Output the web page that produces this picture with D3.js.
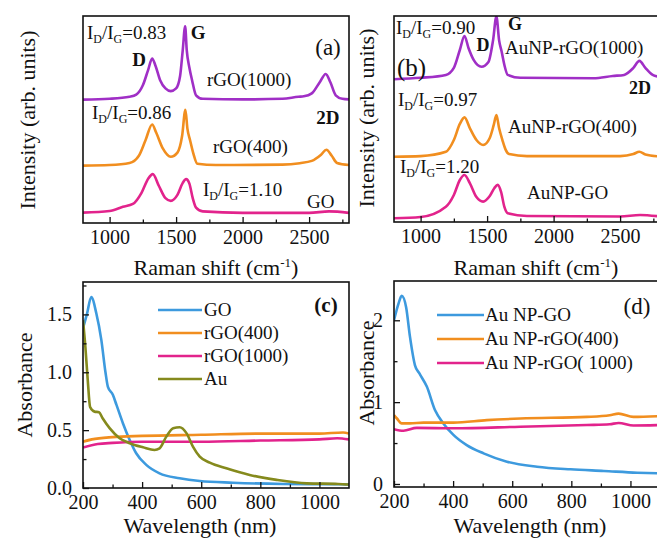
<!DOCTYPE html>
<html>
<head>
<meta charset="utf-8">
<script src="https://cdn.jsdelivr.net/npm/d3@7"></script>
<style>
  body { margin: 0; background: #fff; }
  svg { display: block; }
  text { font-family: "Liberation Serif", "Times New Roman", serif; fill: #111; }
</style>
</head>
<body>
<svg id="fig" width="657" height="545"></svg>
<script>
// ---- data ----
// Raman spectra, panel (a): [wavenumber, offset intensity (arb.)]
const aRGO1000 = [[800,0.596],[1000,0.60],[1150,0.61],[1200,0.62],[1250,0.665],[1290,0.74],[1320,0.795],[1345,0.76],[1380,0.69],[1420,0.65],[1460,0.637],[1500,0.65],[1530,0.71],[1550,0.835],[1568,0.95],[1580,0.835],[1600,0.75],[1620,0.69],[1650,0.617],[1700,0.60],[2000,0.597],[2300,0.60],[2420,0.61],[2460,0.612],[2520,0.626],[2580,0.68],[2625,0.72],[2660,0.68],[2700,0.617],[2750,0.60],[2800,0.597]];
const aRGO400 = [[800,0.277],[1000,0.28],[1150,0.29],[1220,0.325],[1270,0.40],[1320,0.476],[1350,0.437],[1400,0.36],[1460,0.32],[1510,0.34],[1545,0.42],[1570,0.547],[1585,0.456],[1605,0.40],[1630,0.335],[1660,0.286],[1800,0.28],[2300,0.282],[2430,0.289],[2520,0.30],[2590,0.33],[2630,0.354],[2670,0.325],[2710,0.29],[2800,0.28]];
const aGO = [[800,0.05],[1000,0.058],[1100,0.078],[1175,0.092],[1240,0.146],[1290,0.214],[1325,0.236],[1370,0.18],[1420,0.12],[1460,0.107],[1510,0.136],[1550,0.194],[1575,0.212],[1600,0.19],[1625,0.12],[1650,0.074],[1700,0.056],[2000,0.049],[2500,0.049],[2650,0.056],[2800,0.049]];

// Raman spectra, panel (b)
const bRGO1000 = [[800,0.693],[1000,0.70],[1190,0.714],[1250,0.748],[1295,0.835],[1330,0.903],[1360,0.845],[1400,0.786],[1458,0.754],[1510,0.777],[1545,0.883],[1570,0.998],[1590,0.883],[1610,0.825],[1630,0.762],[1655,0.714],[1750,0.70],[2300,0.698],[2445,0.709],[2530,0.714],[2600,0.748],[2645,0.782],[2690,0.748],[2745,0.714],[2800,0.704]];
const bRGO400 = [[800,0.317],[1000,0.32],[1190,0.341],[1250,0.398],[1295,0.476],[1330,0.508],[1370,0.456],[1420,0.398],[1470,0.374],[1520,0.408],[1550,0.471],[1570,0.519],[1590,0.456],[1615,0.398],[1640,0.35],[1665,0.33],[1800,0.32],[2500,0.32],[2600,0.33],[2645,0.341],[2690,0.328],[2800,0.318]];
const bGO = [[800,0.018],[1000,0.024],[1190,0.074],[1250,0.131],[1295,0.204],[1330,0.228],[1370,0.189],[1420,0.121],[1470,0.099],[1520,0.126],[1555,0.165],[1580,0.18],[1605,0.146],[1630,0.073],[1655,0.042],[1800,0.029],[2500,0.027],[2650,0.034],[2800,0.027]];

// UV-vis, panel (c): [wavelength nm, absorbance]
const cGO = [[200,1.38],[213,1.50],[228,1.65],[245,1.51],[262,1.28],[276,1.0],[284,0.877],[301,0.805],[313,0.72],[335,0.56],[358,0.415],[380,0.30],[414,0.20],[459,0.127],[527,0.084],[595,0.06],[707,0.046],[877,0.035],[1070,0.032],[1100,0.03]];
const cRGO400 = [[200,0.40],[230,0.42],[300,0.44],[400,0.45],[600,0.46],[800,0.47],[1000,0.47],[1080,0.48],[1100,0.47]];
const cRGO1000 = [[200,0.35],[250,0.38],[300,0.39],[400,0.40],[600,0.40],[800,0.41],[1000,0.42],[1060,0.43],[1100,0.42]];
const cAu = [[200,1.45],[208,1.22],[216,0.935],[224,0.70],[239,0.66],[254,0.655],[267,0.60],[290,0.517],[324,0.43],[358,0.387],[403,0.352],[442,0.329],[459,0.343],[482,0.444],[505,0.517],[527,0.525],[550,0.474],[572,0.358],[595,0.271],[629,0.219],[685,0.17],[764,0.113],[855,0.07],[957,0.04],[1063,0.035],[1100,0.03]];

// UV-vis, panel (d)
const dGO = [[200,2.0],[215,2.2],[226,2.30],[241,2.16],[254,1.80],[271,1.45],[286,1.35],[311,1.19],[339,0.90],[367,0.74],[401,0.60],[446,0.475],[503,0.374],[582,0.272],[684,0.211],[797,0.179],[910,0.159],[1023,0.138],[1100,0.13]];
const dRGO400 = [[200,0.84],[210,0.80],[226,0.74],[254,0.74],[300,0.75],[401,0.75],[514,0.78],[627,0.80],[853,0.82],[930,0.84],[960,0.86],[1010,0.82],[1100,0.83]];
const dRGO1000 = [[200,0.67],[232,0.65],[277,0.685],[401,0.68],[627,0.70],[853,0.72],[930,0.73],[960,0.745],[1010,0.715],[1100,0.72]];

// ticks
const ramanMajor = [1000, 1500, 2000, 2500];
const ramanMinor = [1250, 1750, 2250, 2750];
const uvMajor = [200, 400, 600, 800, 1000];
const uvMinor = [300, 500, 700, 900];
const cYMajor = [0, 0.5, 1.0, 1.5];
const cYMinor = [0.25, 0.75, 1.25, 1.75];
const dYMajor = [0, 1, 2];
const dYMinor = [0.5, 1.5];

// annotations: [text, x, y] in data units
const ratioA = [["0.83", 830, 0.889], ["0.86", 868, 0.502], ["1.10", 1702, 0.13]];
const sampleA = [["rGO(1000)", 1732, 0.662], ["rGO(400)", 1777, 0.338], ["GO", 2484, 0.072]];
const peakA = [["D", 1221, 0.758], ["G", 1665, 0.889], ["2D", 2642, 0.478]];
const ratioB = [["0.90", 815, 0.913], ["0.97", 830, 0.563], ["1.20", 845, 0.238]];
const sampleB = [["AuNP-rGO(1000)", 1635, 0.814], ["AuNP-rGO(400)", 1657, 0.432], ["AuNP-GO", 1800, 0.112]];
const peakB = [["D", 1469, 0.83], ["G", 1710, 0.93], ["2D", 2650, 0.621]];

const legendC = ["GO", "rGO(400)", "rGO(1000)", "Au"];
const legendD = ["Au NP-GO", "Au NP-rGO(400)", "Au NP-rGO( 1000)"];

const purple = "#a02fc6", orange = "#f18e1f", magenta = "#e2238c", blue = "#3d9ade", olive = "#858a1d";

// ---- drawing ----
const svg = d3.select("#fig");

function panel(p) {
  const g = svg.append("g");
  const x = d3.scaleLinear().domain(p.xd).range([p.l, p.r]);
  const y = d3.scaleLinear().domain(p.yd).range([p.b, p.t]);

  const id = "clip" + p.name;
  svg.append("clipPath").attr("id", id)
    .append("rect").attr("x", p.l).attr("y", p.t).attr("width", p.r - p.l).attr("height", p.b - p.t);

  const line = d3.line().x(d => x(d[0])).y(d => y(d[1])).curve(d3.curveMonotoneX);
  p.series.forEach(s => {
    g.append("path").datum(s.data).attr("d", line)
      .attr("fill", "none").attr("stroke", s.color).attr("stroke-width", 2.6)
      .attr("stroke-linejoin", "round").attr("clip-path", `url(#${id})`);
  });

  // x axis, ticks pointing inward
  g.append("g").attr("transform", `translate(0,${p.b})`)
    .call(d3.axisBottom(x).tickValues(p.xMajor).tickSizeInner(-6).tickSizeOuter(0).tickPadding(7).tickFormat(d3.format("d")));
  g.append("g").attr("transform", `translate(0,${p.b})`)
    .call(d3.axisBottom(x).tickValues(p.xMinor).tickSizeInner(-3.5).tickSizeOuter(0).tickFormat(""));
  if (p.yMajor) {
    g.append("g").attr("transform", `translate(${p.l},0)`)
      .call(d3.axisLeft(y).tickValues(p.yMajor).tickSizeInner(-6).tickSizeOuter(0).tickPadding(11).tickFormat(p.yFmt));
    g.append("g").attr("transform", `translate(${p.l},0)`)
      .call(d3.axisLeft(y).tickValues(p.yMinor).tickSizeInner(-3.5).tickSizeOuter(0).tickFormat(""));
  }
  g.selectAll(".domain").remove();
  g.selectAll(".tick line").attr("stroke", "#111").attr("stroke-width", 1.3);
  g.selectAll(".tick text").attr("font-size", 20).attr("font-family", "Liberation Serif").attr("fill", "#111");

  g.append("rect").attr("x", p.l).attr("y", p.t).attr("width", p.r - p.l).attr("height", p.b - p.t)
    .attr("fill", "none").attr("stroke", "#111").attr("stroke-width", 1.6);

  return { g, x, y };
}

function ratioText(g, x, y, list) {
  list.forEach(([v, a, b]) => {
    const t = g.append("text").attr("x", x(a)).attr("y", y(b)).attr("font-size", 19);
    t.append("tspan").text("I");
    t.append("tspan").attr("dy", 4).attr("font-size", 12).text("D");
    t.append("tspan").attr("dy", -4).text("/I");
    t.append("tspan").attr("dy", 4).attr("font-size", 12).text("G");
    t.append("tspan").attr("dy", -4).text("=" + v);
  });
}

function plainText(g, x, y, list, opts) {
  list.forEach(([v, a, b]) => {
    g.append("text").attr("x", x(a)).attr("y", y(b))
      .attr("font-size", opts.size).attr("font-weight", opts.bold ? "bold" : "normal")
      .attr("text-anchor", opts.anchor || "start").text(v);
  });
}

function ramanTitles(g, cx, yb, ylabelX, ylabelY) {
  const t = g.append("text").attr("x", cx).attr("y", yb).attr("text-anchor", "middle").attr("font-size", 22);
  t.append("tspan").text("Raman shift (cm");
  t.append("tspan").attr("dy", -8).attr("font-size", 13).text("-1");
  t.append("tspan").attr("dy", 8).text(")");
  g.append("text").attr("transform", `translate(${ylabelX},${ylabelY}) rotate(-90)`)
    .attr("text-anchor", "middle").attr("font-size", 22).text("Intensity (arb. units)");
}

// (a)
const A = panel({ name: "a", l: 83, r: 349, t: 16, b: 223, xd: [800, 2800], yd: [0, 1],
  xMajor: ramanMajor, xMinor: ramanMinor,
  series: [{ data: aRGO1000, color: purple }, { data: aRGO400, color: orange }, { data: aGO, color: magenta }] });
ratioText(A.g, A.x, A.y, ratioA);
plainText(A.g, A.x, A.y, sampleA, { size: 19 });
plainText(A.g, A.x, A.y, peakA, { size: 19, bold: true, anchor: "middle" });
A.g.append("text").attr("x", 328).attr("y", 55).attr("text-anchor", "middle").attr("font-size", 23).text("(a)");
ramanTitles(A.g, 216, 275, 35, 120);

// (b)
const B = panel({ name: "b", l: 394, r: 660, t: 16, b: 222, xd: [800, 2800], yd: [0, 1],
  xMajor: ramanMajor, xMinor: ramanMinor,
  series: [{ data: bRGO1000, color: purple }, { data: bRGO400, color: orange }, { data: bGO, color: magenta }] });
ratioText(B.g, B.x, B.y, ratioB);
plainText(B.g, B.x, B.y, sampleB, { size: 19 });
plainText(B.g, B.x, B.y, peakB, { size: 18, bold: true, anchor: "middle" });
B.g.append("text").attr("x", 397).attr("y", 76).attr("font-size", 25).text("(b)");
ramanTitles(B.g, 536, 275, 374, 118);

// (c)
const C = panel({ name: "c", l: 83, r: 349, t: 282, b: 488, xd: [200, 1100], yd: [0, 1.78],
  xMajor: uvMajor, xMinor: uvMinor, yMajor: cYMajor, yMinor: cYMinor, yFmt: d3.format(".1f"),
  series: [{ data: cGO, color: blue }, { data: cRGO400, color: orange }, { data: cRGO1000, color: magenta }, { data: cAu, color: olive }] });
const colC = [blue, orange, magenta, olive];
legendC.forEach((name, i) => {
  const yy = 310 + i * 23;
  C.g.append("line").attr("x1", 158).attr("x2", 202).attr("y1", yy).attr("y2", yy)
    .attr("stroke", colC[i]).attr("stroke-width", 2.6);
  C.g.append("text").attr("x", 204).attr("y", yy + 6).attr("font-size", 19).text(name);
});
C.g.append("text").attr("x", 326).attr("y", 312).attr("text-anchor", "middle").attr("font-size", 21).attr("font-weight", "bold").text("(c)");
C.g.append("text").attr("x", 200).attr("y", 533).attr("text-anchor", "middle").attr("font-size", 22).text("Wavelength (nm)");
C.g.append("text").attr("transform", "translate(32,385) rotate(-90)").attr("text-anchor", "middle").attr("font-size", 22).text("Absorbance");

// (d)
const D = panel({ name: "d", l: 394, r: 660, t: 281, b: 487, xd: [200, 1100], yd: [-0.037, 2.48],
  xMajor: uvMajor, xMinor: uvMinor, yMajor: dYMajor, yMinor: dYMinor, yFmt: d3.format("d"),
  series: [{ data: dGO, color: blue }, { data: dRGO400, color: orange }, { data: dRGO1000, color: magenta }] });
const colD = [blue, orange, magenta];
legendD.forEach((name, i) => {
  const yy = 315 + i * 24;
  D.g.append("line").attr("x1", 437).attr("x2", 484).attr("y1", yy).attr("y2", yy)
    .attr("stroke", colD[i]).attr("stroke-width", 2.6);
  D.g.append("text").attr("x", 485).attr("y", yy + 6).attr("font-size", 19).text(name);
});
D.g.append("text").attr("x", 637).attr("y", 314).attr("text-anchor", "middle").attr("font-size", 23).text("(d)");
D.g.append("text").attr("x", 530).attr("y", 533).attr("text-anchor", "middle").attr("font-size", 22).text("Wavelength (nm)");
D.g.append("text").attr("transform", "translate(374,373) rotate(-90)").attr("text-anchor", "middle").attr("font-size", 22).text("Absorbance");
</script>
</body>
</html>
